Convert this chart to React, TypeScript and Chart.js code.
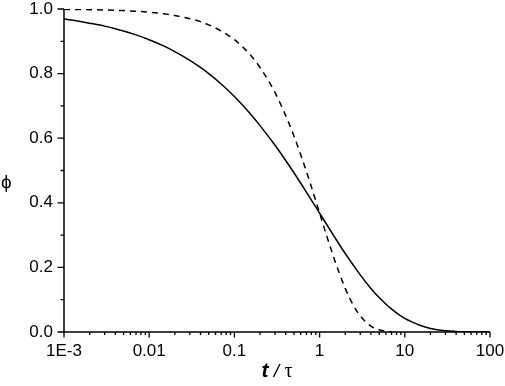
import React, { useEffect, useRef } from "react";
import { Chart, registerables } from "chart.js";

Chart.register(...registerables);

// t / tau sample positions and curve values
const T_SOLID = [0.001, 0.0015, 0.002, 0.003, 0.004, 0.005, 0.007, 0.01, 0.015, 0.02, 0.03, 0.04, 0.05, 0.07, 0.1, 0.15, 0.2, 0.3, 0.4, 0.5, 0.7, 1, 1.5, 2, 3, 4, 5, 7, 10, 15, 20, 30, 40, 50, 70, 100];
const PHI_SOLID = [0.969, 0.962, 0.956, 0.947, 0.939, 0.932, 0.92, 0.905, 0.885, 0.868, 0.841, 0.819, 0.8, 0.768, 0.729, 0.679, 0.639, 0.578, 0.531, 0.493, 0.433, 0.368, 0.294, 0.243, 0.177, 0.135, 0.107, 0.071, 0.042, 0.021, 0.011, 0.004, 0.0018, 0.0008, 0.0002, 0.0];

const T_DASHED = [0.001, 0.002, 0.003, 0.005, 0.007, 0.01, 0.015, 0.02, 0.03, 0.04, 0.05, 0.07, 0.1, 0.15, 0.2, 0.3, 0.4, 0.5, 0.7, 1, 1.2, 1.5, 2, 2.5, 3, 4, 5, 6, 7];
const PHI_DASHED = [0.999, 0.998, 0.997, 0.995, 0.993, 0.99, 0.985, 0.98, 0.97, 0.961, 0.951, 0.932, 0.905, 0.861, 0.819, 0.741, 0.67, 0.607, 0.497, 0.368, 0.301, 0.223, 0.135, 0.082, 0.05, 0.018, 0.007, 0.0025, 0.001];

const X_MAJOR_TICKS = [0.001, 0.01, 0.1, 1, 10, 100];
const X_TICK_LABELS = ["1E-3", "0.01", "0.1", "1", "10", "100"];
const X_MINOR_FACTORS = [2, 3, 4, 5, 6, 7, 8, 9];
const Y_MAJOR_TICKS = [0, 0.2, 0.4, 0.6, 0.8, 1.0];
const Y_MINOR_TICKS = [0.1, 0.3, 0.5, 0.7, 0.9];

const W = 505;
const H = 386;
const FONT = "'Liberation Sans', Arial, sans-serif";

const axesPlugin = {
  id: "axesPlugin",
  afterDraw(chart: any) {
    const ctx = chart.ctx;
    const xs = chart.scales.x;
    const ys = chart.scales.y;
    const area = chart.chartArea;
    ctx.save();
    ctx.strokeStyle = "#000";
    ctx.lineWidth = 1.5;
    ctx.setLineDash([]);
    const x0 = area.left;
    const y0 = area.bottom;
    ctx.beginPath();
    ctx.moveTo(x0, ys.getPixelForValue(1.0));
    ctx.lineTo(x0, y0);
    ctx.lineTo(xs.getPixelForValue(100), y0);
    ctx.stroke();
    ctx.lineWidth = 1.3;
    ctx.beginPath();
    Y_MAJOR_TICKS.forEach((v) => {
      const p = ys.getPixelForValue(v);
      ctx.moveTo(x0 - 6.5, p);
      ctx.lineTo(x0, p);
    });
    Y_MINOR_TICKS.forEach((v) => {
      const p = ys.getPixelForValue(v);
      ctx.moveTo(x0 - 3.5, p);
      ctx.lineTo(x0, p);
    });
    X_MAJOR_TICKS.forEach((v, i) => {
      const p = xs.getPixelForValue(v);
      ctx.moveTo(p, y0);
      ctx.lineTo(p, y0 + 5.5);
      if (i < X_MAJOR_TICKS.length - 1) {
        X_MINOR_FACTORS.forEach((f) => {
          const q = xs.getPixelForValue(v * f);
          ctx.moveTo(q, y0);
          ctx.lineTo(q, y0 + 3);
        });
      }
    });
    ctx.stroke();

    ctx.fillStyle = "#000";
    ctx.textBaseline = "alphabetic";
    ctx.font = "19px " + FONT;
    ctx.textAlign = "left";
    ctx.fillText("\u03d5", 1, 188);

    const cx = (area.left + area.right) / 2;
    const parts = [
      { s: "t", f: "bold italic 21px " + FONT },
      { s: " / ", f: "italic 19px " + FONT },
      { s: "\u03c4", f: "20px 'Liberation Serif', 'DejaVu Serif', serif" },
    ];
    let total = 0;
    parts.forEach((p) => {
      ctx.font = p.f;
      total += ctx.measureText(p.s).width;
    });
    let x = cx - total / 2;
    const baseline = 377;
    parts.forEach((p) => {
      ctx.font = p.f;
      ctx.fillText(p.s, x, baseline);
      x += ctx.measureText(p.s).width;
    });
    ctx.restore();
  },
};

export default function App() {
  const ref = useRef<HTMLCanvasElement | null>(null);

  useEffect(() => {
    document.body.style.margin = "0";
    const canvas = ref.current;
    if (!canvas) return;
    const chart = new Chart(canvas, {
      type: "line",
      data: {
        datasets: [
          {
            label: "solid",
            data: T_SOLID.map((t, i) => ({ x: t, y: PHI_SOLID[i] })),
            borderColor: "#000",
            borderWidth: 1.5,
            pointRadius: 0,
            fill: false,
            cubicInterpolationMode: "monotone",
          },
          {
            label: "dashed",
            data: T_DASHED.map((t, i) => ({ x: t, y: PHI_DASHED[i] })),
            borderColor: "#000",
            borderWidth: 1.5,
            borderDash: [6, 5],
            pointRadius: 0,
            fill: false,
            cubicInterpolationMode: "monotone",
          },
        ],
      },
      options: {
        animation: false,
        responsive: false,
        devicePixelRatio: 1,
        layout: { padding: { top: 9, right: 15, left: 0, bottom: 0 } },
        plugins: {
          legend: { display: false },
          tooltip: { enabled: false },
        },
        scales: {
          x: {
            type: "logarithmic",
            min: 0.001,
            max: 100,
            grid: { display: false, drawTicks: false },
            border: { display: false },
            afterBuildTicks: (scale: any) => {
              scale.ticks = X_MAJOR_TICKS.map((v) => ({ value: v }));
            },
            afterFit: (scale: any) => {
              scale.height = 54;
              scale.paddingLeft = 0;
              scale.paddingRight = 0;
            },
            ticks: {
              autoSkip: false,
              maxRotation: 0,
              padding: 9,
              color: "#000",
              font: { family: FONT, size: 17 },
              callback: (value: any) => {
                const i = X_MAJOR_TICKS.findIndex((v) => Math.abs(v - Number(value)) < v * 1e-6);
                return i >= 0 ? X_TICK_LABELS[i] : "";
              },
            },
          },
          y: {
            type: "linear",
            min: 0,
            max: 1,
            grid: { display: false, drawTicks: false },
            border: { display: false },
            afterBuildTicks: (scale: any) => {
              scale.ticks = Y_MAJOR_TICKS.map((v) => ({ value: v }));
            },
            afterFit: (scale: any) => {
              scale.width = 64;
              scale.paddingTop = 0;
              scale.paddingBottom = 0;
            },
            ticks: {
              padding: 11,
              color: "#000",
              font: { family: FONT, size: 17 },
              callback: (value: any) => Number(value).toFixed(1),
            },
          },
        },
      },
      plugins: [axesPlugin],
    } as any);
    return () => chart.destroy();
  }, []);

  return (
    <div style={{ width: W, height: H, background: "#fff" }}>
      <canvas ref={ref} width={W} height={H} style={{ display: "block" }} />
    </div>
  );
}
